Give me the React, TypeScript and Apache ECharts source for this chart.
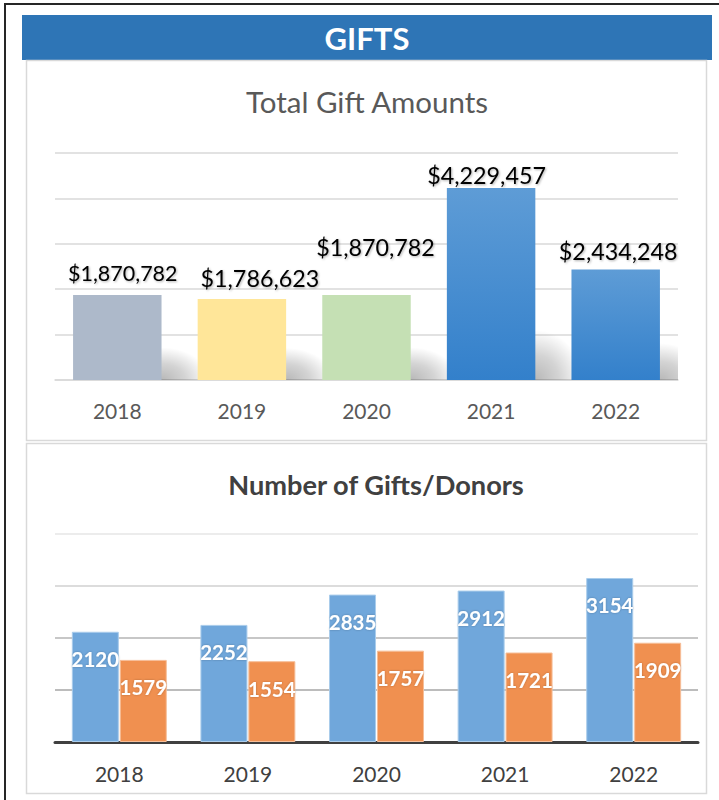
import React, { useEffect, useRef } from "react";
import * as echarts from "echarts";

const years = ["2018", "2019", "2020", "2021", "2022"];
const giftAmounts = [1870782, 1786623, 1870782, 4229457, 2434248];
const numGifts = [2120, 2252, 2835, 2912, 3154];
const numDonors = [1579, 1554, 1757, 1721, 1909];
const amountTicks = [0, 1000000, 2000000, 3000000, 4000000, 5000000];
const countTicks = [0, 1000, 2000, 3000, 4000];

const FONT = "Lato, 'Open Sans', sans-serif";

export default function App() {
  const ref = useRef<HTMLDivElement>(null);
  useEffect(() => {
    if (!ref.current) return;
    const chart = echarts.init(ref.current, null, { renderer: "svg" });

    const blueGrad = () =>
      new echarts.graphic.LinearGradient(0, 0, 0, 1, [
        { offset: 0, color: "#5E9CD6" },
        { offset: 1, color: "#3380CB" },
      ]);
    const topColors = ["#ADB9CA", "#FFE699", "#C5E0B4", blueGrad(), blueGrad()];
    const labelDist = [11.5, 9.5, 36.5, 1, 7];
    const labelShiftX = [5.5, 18, 9, -4.5, 2.5];
    const labelSize = [21.5, 23.3, 23.3, 23.3, 23.3];

    const topData = giftAmounts.map((v, i) => ({
      value: v,
      itemStyle: { color: topColors[i] },
      label: { distance: labelDist[i], fontSize: labelSize[i], offset: [labelShiftX[i], 0] },
    }));

    const option: any = {
      animation: false,
      textStyle: { fontFamily: FONT },
      graphic: [
        {
          type: "rect",
          shape: { x: 5, y: 4, width: 800, height: 900 },
          style: { fill: "none", stroke: "#262626", lineWidth: 2 },
          silent: true,
        },
        {
          type: "rect",
          shape: { x: 22, y: 15, width: 690, height: 45 },
          style: { fill: "#2E75B6" },
          silent: true,
        },
        {
          type: "text",
          x: 367,
          y: 38,
          style: {
            text: "GIFTS",
            fill: "#FFFFFF",
            font: `bold 31px ${FONT}`,
            textAlign: "center",
            textVerticalAlign: "middle",
          },
        },
        {
          type: "rect",
          shape: { x: 26.5, y: 60.5, width: 680, height: 380 },
          style: { fill: "none", stroke: "#D9D9D9", lineWidth: 1.5 },
          silent: true,
        },
        {
          type: "rect",
          shape: { x: 26.5, y: 443.5, width: 680, height: 350 },
          style: { fill: "none", stroke: "#D9D9D9", lineWidth: 1.5 },
          silent: true,
        },
        {
          type: "text",
          x: 367,
          y: 101,
          style: {
            text: "Total Gift Amounts",
            fill: "#595959",
            font: `29.5px ${FONT}`,
            textAlign: "center",
            textVerticalAlign: "middle",
          },
        },
        {
          type: "text",
          x: 376,
          y: 484,
          style: {
            text: "Number of Gifts/Donors",
            fill: "#404040",
            font: `bold 27.2px ${FONT}`,
            textAlign: "center",
            textVerticalAlign: "middle",
          },
        },
      ],
      grid: [
        { left: 55, right: 41, top: 153, height: 227 },
        { left: 55, right: 21, top: 534, height: 208 },
      ],
      xAxis: [
        {
          type: "category",
          gridIndex: 0,
          data: years,
          axisLine: { lineStyle: { color: "#D9D9D9", width: 1.5 } },
          axisTick: { show: false },
          axisLabel: { fontSize: 21, color: "#595959", margin: 20, fontFamily: FONT },
        },
        {
          type: "category",
          gridIndex: 1,
          data: years,
          axisLine: { lineStyle: { color: "#404040", width: 3 } },
          axisTick: { show: false },
          axisLabel: { fontSize: 21, color: "#404040", margin: 21, fontFamily: FONT },
        },
      ],
      yAxis: [
        {
          type: "value",
          gridIndex: 0,
          min: amountTicks[0],
          max: amountTicks[amountTicks.length - 1],
          interval: amountTicks[1] - amountTicks[0],
          axisLabel: { show: false },
          axisLine: { show: false },
          axisTick: { show: false },
          splitLine: { lineStyle: { color: "#D9D9D9", width: 1.5 } },
        },
        {
          type: "value",
          gridIndex: 1,
          min: countTicks[0],
          max: countTicks[countTicks.length - 1],
          interval: countTicks[1] - countTicks[0],
          axisLabel: { show: false },
          axisLine: { show: false },
          axisTick: { show: false },
          splitLine: {
            lineStyle: {
              color: ["#A6A6A6", "#A6A6A6", "#B4B4B4", "#D0D0D0", "#E6E6E6"],
              width: 1.5,
            },
          },
        },
      ],
      series: [
        {
          type: "custom",
          name: "shadow",
          xAxisIndex: 0,
          yAxisIndex: 0,
          z: 1,
          clip: true,
          silent: true,
          data: giftAmounts.map((v, i) => [i, v]),
          renderItem: (params: any, api: any) => {
            const idx = api.value(0);
            const v = api.value(1);
            const base = api.coord([idx, 0]);
            const top = api.coord([idx, v]);
            const bw = api.size([1, 0])[0] * 0.71;
            const xr = base[0] + bw / 2;
            const h = base[1] - top[1];
            const sh = 20 + h * 0.17;
            return {
              type: "rect",
              shape: { x: xr - 6, y: base[1] - sh, width: 50, height: sh },
              style: {
                fill: new echarts.graphic.RadialGradient(0.12, 1, 0.95, [
                  { offset: 0, color: "rgba(0,0,0,0.28)" },
                  { offset: 0.5, color: "rgba(0,0,0,0.17)" },
                  { offset: 1, color: "rgba(0,0,0,0)" },
                ]),
              },
            };
          },
        },
        {
          type: "bar",
          name: "Total Gift Amounts",
          xAxisIndex: 0,
          yAxisIndex: 0,
          z: 3,
          barWidth: "71%",
          data: topData,
          label: {
            show: true,
            position: "top",
            fontSize: 21.5,
            fontFamily: FONT,
            color: "#000000",
            textShadowColor: "rgba(0,0,0,0.3)",
            textShadowBlur: 2,
            textShadowOffsetX: 1,
            textShadowOffsetY: 1,
            formatter: (p: any) => "$" + Number(p.value).toLocaleString("en-US"),
          },
        },
        {
          type: "bar",
          name: "Gifts",
          xAxisIndex: 1,
          yAxisIndex: 1,
          barWidth: 47,
          barGap: "2%",
          data: numGifts,
          itemStyle: { color: "#70A7DB", borderColor: "#A9CCEB", borderWidth: 1 },
          label: {
            show: true,
            position: "insideTop",
            distance: 17,
            fontSize: 20.5,
            fontWeight: "bold",
            fontFamily: FONT,
            color: "#FFFFFF",
            textShadowColor: "rgba(0,0,0,0.25)",
            textShadowBlur: 2,
          },
        },
        {
          type: "bar",
          name: "Donors",
          xAxisIndex: 1,
          yAxisIndex: 1,
          barWidth: 47,
          barGap: "2%",
          data: numDonors,
          itemStyle: { color: "#F09050", borderColor: "#F6BE98", borderWidth: 1 },
          label: {
            show: true,
            position: "insideTop",
            distance: 17,
            fontSize: 20.5,
            fontWeight: "bold",
            fontFamily: FONT,
            color: "#FFFFFF",
            textShadowColor: "rgba(0,0,0,0.25)",
            textShadowBlur: 2,
          },
        },
      ],
    };
    chart.setOption(option);
    return () => chart.dispose();
  }, []);

  return (
    <div
      ref={ref}
      style={{ position: "absolute", left: 0, top: 0, width: 719, height: 800, background: "#FFFFFF" }}
    />
  );
}
